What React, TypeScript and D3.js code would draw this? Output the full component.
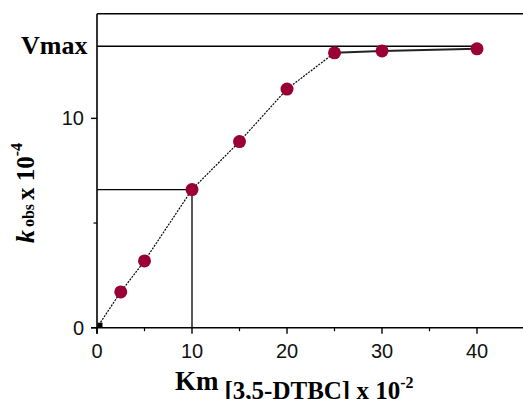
import React from "react";
import * as d3 from "d3";

const xValues = [0, 2.5, 5, 10, 15, 20, 25, 30, 40];
const yValues = [0, 1.71, 3.19, 6.6, 8.89, 11.4, 13.13, 13.22, 13.32];
const vmax = 13.45;
const kmX = 10;
const kmY = 6.6;
const xTicks = [0, 10, 20, 30, 40];
const xMinor = [5, 15, 25, 35];
const yTicks = [0, 10];
const yMinor = [5];

export default function App() {
  const W = 523, H = 399;
  const x = d3.scaleLinear().domain([0, 45]).range([97, 524.5]);
  const y = d3.scaleLinear().domain([0, 15]).range([327.7, 13.7]);
  const pts = xValues.map((v, i) => [x(v), y(yValues[i])] as [number, number]);
  const curveIdx = xValues.map((_, i) => i).filter(i => xValues[i] <= 25);
  const dotted = d3.line()(curveIdx.map(i => pts[i]));
  const plateau = d3.line()(pts.filter((_, i) => xValues[i] >= 25));
  const sans = "'Liberation Sans', Arial, sans-serif";
  const serif = "'Liberation Serif', 'Times New Roman', serif";
  return (
    <svg width={W} height={H} style={{ position: "absolute", left: 0, top: 0, background: "#fff" }}>
      <rect width={W} height={H} fill="#fff" />
      {/* frame top */}
      <line x1={x(0)} x2={W} y1={y(15)} y2={y(15)} stroke="#000" strokeWidth={1.6} />
      {/* axes */}
      <line x1={x(0)} x2={x(0)} y1={y(15)} y2={y(0) + 6} stroke="#000" strokeWidth={1.6} />
      <line x1={x(0) - 6} x2={W} y1={y(0)} y2={y(0)} stroke="#000" strokeWidth={1.6} />
      {xTicks.map(t => (
        <g key={"xt" + t}>
          <line x1={x(t)} x2={x(t)} y1={y(0)} y2={y(0) + 6} stroke="#000" strokeWidth={1.4} />
          <text x={x(t)} y={358} textAnchor="middle" fontFamily={sans} fontSize={20} fill="#111">{t}</text>
        </g>
      ))}
      {xMinor.map(t => (
        <line key={"xm" + t} x1={x(t)} x2={x(t)} y1={y(0)} y2={y(0) + 3.5} stroke="#000" strokeWidth={1.2} />
      ))}
      {yTicks.map(t => (
        <g key={"yt" + t}>
          <line x1={x(0) - 6} x2={x(0)} y1={y(t)} y2={y(t)} stroke="#000" strokeWidth={1.4} />
          <text x={x(0) - 13} y={y(t) + 7} textAnchor="end" fontFamily={sans} fontSize={20} fill="#111">{t}</text>
        </g>
      ))}
      {yMinor.map(t => (
        <line key={"ym" + t} x1={x(0) - 3.5} x2={x(0)} y1={y(t)} y2={y(t)} stroke="#000" strokeWidth={1.2} />
      ))}
      {/* Vmax line */}
      <line x1={x(0)} x2={x(40)} y1={y(vmax)} y2={y(vmax)} stroke="#000" strokeWidth={1.5} />
      <text x={21} y={54} fontFamily={serif} fontWeight="bold" fontSize={26} fill="#000">Vmax</text>
      {/* Km guide lines */}
      <line x1={x(0)} x2={x(kmX)} y1={y(kmY)} y2={y(kmY)} stroke="#000" strokeWidth={1.3} />
      <line x1={x(kmX)} x2={x(kmX)} y1={y(kmY)} y2={y(0)} stroke="#000" strokeWidth={1.3} />
      {/* curve */}
      <path d={dotted ?? ""} fill="none" stroke="#000" strokeWidth={1.2} strokeDasharray="2,1.2" />
      <path d={plateau ?? ""} fill="none" stroke="#222" strokeWidth={2} />
      <rect x={x(0) + 0.5} y={y(0) - 5} width={5} height={5} fill="#000" />
      {pts.slice(1).map((p, i) => (
        <circle key={i} cx={p[0]} cy={p[1]} r={6.5} fill="#9A0036" />
      ))}
      {/* x label */}
      <text x={175} y={390} fontFamily={serif} fontWeight="bold" fill="#000">
        <tspan fontSize={27}>Km</tspan>
        <tspan fontSize={25} dx={6} dy={9}>[3,5-DTBC] x 10</tspan>
        <tspan fontSize={16} dy={-11}>-2</tspan>
      </text>
      {/* y label */}
      <text transform="translate(34,193) rotate(-90)" textAnchor="middle" fontFamily={serif} fontWeight="bold" fill="#000">
        <tspan fontSize={26} fontStyle="italic">k</tspan>
        <tspan fontSize={16} dx={3}>obs</tspan>
        <tspan fontSize={25} dx={4}>x 10</tspan>
        <tspan fontSize={16} dy={-12}>-4</tspan>
      </text>
    </svg>
  );
}
